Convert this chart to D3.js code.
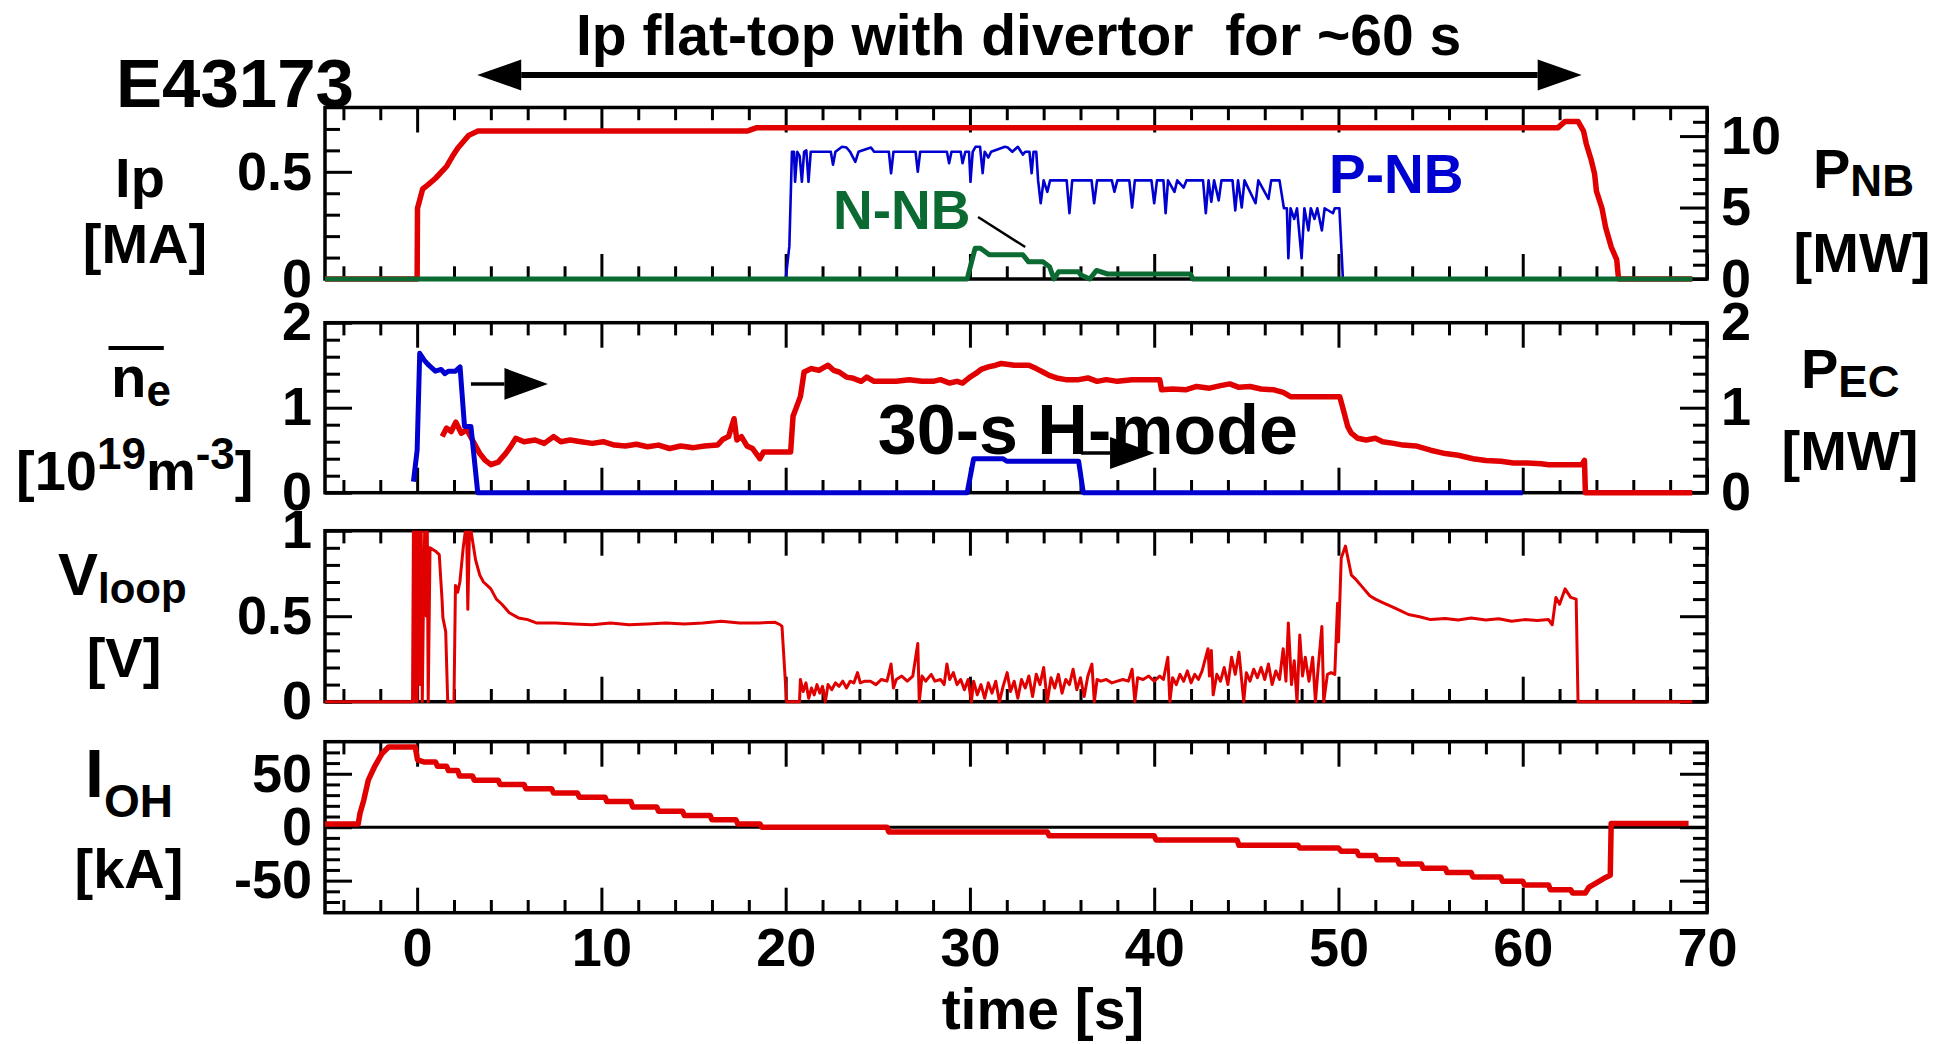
<!DOCTYPE html>
<html><head><meta charset="utf-8">
<script src="https://cdn.jsdelivr.net/npm/d3@7"></script>
<style>
body{margin:0;background:#fff;}
text{font-family:"Liberation Sans",Arial,Helvetica,sans-serif;font-weight:bold;}
</style></head><body>
<svg id="chart" width="1948" height="1044"></svg>
<script>
// ---------------- DATA ----------------
const timeTicks = [0,10,20,30,40,50,60,70];
const ipTicks = [0,0.5];
const pnbTicks = [0,5,10];
const neTicks = [0,1,2];
const pecTicks = [0,1,2];
const vloopTicks = [0,0.5,1];
const iohTicks = [-50,0,50];

// Ip [MA] vs time [s]
const ipData = [[-5,0],[0,0],[0.02,0.33],[0.3,0.42],[0.6,0.44],[1.0,0.47],[1.6,0.525],[1.9,0.57],[2.2,0.61],[2.5,0.64],[2.8,0.67],[3.3,0.69],[17.9,0.69],[18.4,0.705],[61.9,0.705],[62.1,0.72],[62.3,0.735],[63.0,0.735],[63.3,0.69],[63.45,0.63],[63.7,0.56],[63.9,0.49],[64.0,0.41],[64.3,0.33],[64.5,0.24],[64.8,0.15],[65.1,0.09],[65.2,0],[69.2,0]];

// P-NB [MW]
const pnbData = [[-5,0],[20.0,0],[20.2,2.3],[20.34,8.9],[20.45,8.9],[20.51,6.8],[20.63,8.9],[20.76,8.6],[20.88,6.8],[21.0,8.9],[21.12,9.0],[21.24,6.8],[21.36,8.9],[21.6,8.9],[22.45,8.9],[22.57,8.0],[22.7,8.9],[23.06,9.25],[23.3,9.2],[23.5,8.9],[23.78,8.2],[23.95,8.9],[24.63,9.2],[24.8,8.9],[25.6,8.9],[25.72,7.4],[25.85,8.9],[27.05,8.9],[27.17,7.5],[27.3,8.9],[28.75,8.9],[28.87,8.1],[29.0,8.9],[29.5,8.9],[29.6,8.1],[29.75,8.9],[29.95,8.9],[30.03,6.8],[30.15,8.9],[30.3,9.25],[30.55,9.25],[30.69,7.4],[30.8,8.9],[31.0,8.5],[31.15,8.9],[31.9,9.25],[32.05,9.2],[32.3,8.9],[32.6,9.25],[32.87,8.7],[33.0,8.9],[33.23,8.9],[33.35,7.4],[33.45,8.9],[33.6,8.9],[33.7,6.9],[33.84,5.3],[34.0,6.9],[34.2,6.1],[34.35,6.9],[35.25,6.9],[35.4,4.6],[35.55,6.9],[36.6,6.9],[36.74,5.3],[36.9,6.9],[37.7,6.9],[37.84,6.1],[38.0,6.9],[38.65,6.9],[38.8,5.0],[38.95,6.9],[39.85,6.9],[40.0,5.3],[40.15,6.9],[40.5,6.9],[40.62,4.6],[40.75,6.9],[41.1,6.1],[41.25,6.9],[41.6,6.4],[41.75,6.9],[42.65,6.9],[42.8,4.6],[42.95,6.9],[43.1,5.4],[43.25,6.9],[43.5,5.5],[43.65,6.9],[44.25,6.9],[44.4,4.8],[44.55,6.9],[44.75,5.0],[44.9,6.9],[45.5,5.3],[45.65,6.9],[46.2,5.6],[46.35,6.9],[46.8,6.9],[47.04,4.95],[47.2,4.95],[47.28,1.45],[47.4,4.95],[47.6,4.2],[47.75,4.95],[48.0,1.45],[48.15,4.95],[48.37,3.4],[48.5,4.95],[48.7,4.2],[48.85,4.95],[49.1,3.4],[49.25,4.95],[49.7,4.6],[49.8,4.95],[50.05,4.95],[50.24,0],[69.2,0]];

// N-NB [MW]
const nnbData = [[-5,0],[29.85,0],[30.28,2.15],[30.57,2.15],[31.05,1.7],[32.87,1.7],[33.18,1.2],[33.96,1.2],[34.32,0.86],[34.56,0],[34.81,0.5],[35.9,0.5],[36.0,0.3],[36.5,0],[36.87,0.6],[37.47,0.35],[41.96,0.35],[42.1,0],[69.2,0]];

// line-averaged density [1e19 m^-3]
const neData = [[1.36,0.66],[1.6,0.76],[1.85,0.72],[2.1,0.83],[2.4,0.7],[2.7,0.74],[3.0,0.62],[3.4,0.46],[3.7,0.38],[4.0,0.33],[4.4,0.36],[4.8,0.46],[5.1,0.55],[5.35,0.64],[5.8,0.6],[6.4,0.62],[6.9,0.58],[7.4,0.66],[7.8,0.6],[8.3,0.62],[8.9,0.6],[9.5,0.58],[10.1,0.6],[10.7,0.56],[11.3,0.55],[11.9,0.57],[12.5,0.54],[13.1,0.56],[13.7,0.52],[14.3,0.55],[15.0,0.53],[15.6,0.55],[16.3,0.56],[16.6,0.63],[16.9,0.66],[17.2,0.87],[17.35,0.62],[17.6,0.66],[17.9,0.55],[18.2,0.52],[18.6,0.40],[18.8,0.48],[20.27,0.48],[20.4,0.9],[20.8,1.13],[21.0,1.42],[21.4,1.46],[21.8,1.44],[22.3,1.5],[22.6,1.44],[22.9,1.42],[23.3,1.36],[23.6,1.35],[24.1,1.31],[24.4,1.36],[24.8,1.31],[25.4,1.31],[26.0,1.31],[26.7,1.33],[27.4,1.31],[28.0,1.31],[28.4,1.33],[28.9,1.29],[29.3,1.31],[29.6,1.29],[30.0,1.36],[30.3,1.40],[30.6,1.45],[31.0,1.48],[31.4,1.50],[31.7,1.52],[32.4,1.50],[33.2,1.50],[33.6,1.46],[33.96,1.42],[34.3,1.38],[34.7,1.35],[35.2,1.33],[35.9,1.33],[36.4,1.35],[36.9,1.31],[37.4,1.33],[38.0,1.31],[38.8,1.33],[39.5,1.33],[40.3,1.33],[40.4,1.21],[41.0,1.22],[41.7,1.21],[42.3,1.25],[43.0,1.23],[43.6,1.26],[44.1,1.28],[44.6,1.24],[45.2,1.25],[45.8,1.22],[46.5,1.21],[47.0,1.18],[47.4,1.13],[48.5,1.13],[50.07,1.13],[50.27,0.97],[50.5,0.78],[50.7,0.70],[51.05,0.64],[51.5,0.62],[52.0,0.64],[52.4,0.60],[53.0,0.58],[53.5,0.56],[54.2,0.55],[55.0,0.50],[55.8,0.46],[56.5,0.44],[57.3,0.40],[58.0,0.38],[58.8,0.37],[59.5,0.35],[60.25,0.35],[61.0,0.34],[61.4,0.33],[63.2,0.33],[63.35,0.38],[63.4,0],[69.2,0]];

// P-EC [MW]
const pecData = [[-0.2,0.13],[0.0,0.5],[0.14,1.64],[0.38,1.56],[0.63,1.5],[0.99,1.43],[1.3,1.45],[1.5,1.40],[1.71,1.43],[2.08,1.43],[2.33,1.48],[2.57,0.78],[2.92,0.78],[3.29,0],[29.85,0],[30.2,0.4],[31.8,0.4],[32.0,0.37],[35.9,0.37],[36.15,0],[60.0,0]];

// loop voltage [V]
const vloopData = [[-5,0],[-0.25,0],[-0.2,1.05],[-0.15,0],[-0.05,1.05],[0.0,0],[0.08,1.05],[0.15,0.1],[0.22,1.05],[0.28,0],[0.35,0.65],[0.42,1.05],[0.5,0.5],[0.55,1.05],[0.6,0.0],[0.7,0.9],[1.0,0.88],[1.2,0.86],[1.35,0.6],[1.4,0.49],[1.55,0.41],[1.66,0.0],[2.0,0.0],[2.08,0.68],[2.2,0.64],[2.32,0.7],[2.5,0.9],[2.68,1.05],[2.75,0.54],[2.85,1.05],[3.17,0.83],[3.4,0.74],[3.6,0.7],[3.8,0.68],[4.0,0.66],[4.3,0.6],[4.6,0.57],[5.0,0.52],[5.5,0.49],[6.0,0.48],[6.5,0.46],[7.5,0.46],[8.5,0.455],[9.5,0.45],[10.5,0.46],[11.5,0.45],[12.5,0.455],[13.5,0.46],[14.5,0.455],[15.5,0.46],[16.5,0.47],[17.5,0.46],[18.5,0.46],[19.4,0.465],[19.7,0.45],[19.8,0.44],[20.05,0],[20.75,0],[20.8,0.13],[20.95,0.06],[21.1,0.11],[21.25,0.02],[21.4,0.08],[21.55,0.04],[21.7,0.1],[21.85,0.05],[22.0,0.09],[22.15,0.0],[22.3,0.1],[22.5,0.07],[22.7,0.11],[22.9,0.09],[23.1,0.12],[23.3,0.08],[23.5,0.12],[23.7,0.11],[23.9,0.17],[24.05,0.11],[24.3,0.12],[24.6,0.12],[24.9,0.1],[25.2,0.13],[25.5,0.12],[25.72,0.22],[25.85,0.08],[26.0,0.13],[26.3,0.15],[26.6,0.12],[26.9,0.15],[27.17,0.34],[27.25,0.0],[27.4,0.15],[27.6,0.12],[27.9,0.16],[28.1,0.12],[28.4,0.13],[28.6,0.1],[28.75,0.22],[28.9,0.13],[29.1,0.17],[29.3,0.1],[29.5,0.13],[29.7,0.07],[29.9,0.13],[30.08,0.0],[30.2,0.12],[30.4,0.04],[30.6,0.1],[30.8,0.02],[31.0,0.11],[31.2,0.05],[31.4,0.12],[31.6,0.0],[31.8,0.09],[32.02,0.17],[32.2,0.06],[32.4,0.12],[32.6,0.02],[32.8,0.13],[33.0,0.08],[33.2,0.15],[33.4,0.03],[33.6,0.16],[33.8,0.1],[34.0,0.2],[34.2,0.0],[34.4,0.14],[34.6,0.08],[34.8,0.16],[35.0,0.05],[35.2,0.13],[35.4,0.1],[35.6,0.19],[35.8,0.07],[36.0,0.14],[36.2,0.03],[36.4,0.15],[36.62,0.22],[36.75,0.0],[36.9,0.13],[37.1,0.12],[37.4,0.13],[37.7,0.11],[38.0,0.12],[38.3,0.13],[38.6,0.12],[38.8,0.19],[38.95,0.0],[39.1,0.14],[39.4,0.13],[39.7,0.15],[40.0,0.12],[40.3,0.15],[40.5,0.13],[40.74,0.26],[40.85,0.0],[41.0,0.14],[41.2,0.1],[41.4,0.16],[41.6,0.12],[41.8,0.18],[42.0,0.11],[42.2,0.16],[42.4,0.13],[42.6,0.18],[42.92,0.31],[43.0,0.15],[43.1,0.3],[43.2,0.04],[43.4,0.16],[43.6,0.12],[43.8,0.2],[44.0,0.1],[44.2,0.26],[44.4,0.16],[44.6,0.29],[44.86,0.0],[45.0,0.17],[45.2,0.12],[45.4,0.19],[45.6,0.14],[45.8,0.2],[46.0,0.13],[46.2,0.22],[46.4,0.1],[46.6,0.18],[46.8,0.13],[47.0,0.31],[47.15,0.12],[47.28,0.46],[47.45,0.1],[47.6,0.24],[47.75,0.0],[47.9,0.39],[48.05,0.15],[48.2,0.26],[48.4,0.12],[48.6,0.26],[48.75,0.0],[48.9,0.2],[49.1,0.44],[49.2,0.0],[49.4,0.16],[49.6,0.17],[49.8,0.16],[49.95,0.575],[50.0,0.35],[50.15,0.84],[50.38,0.91],[50.7,0.74],[50.9,0.72],[51.3,0.67],[51.7,0.62],[52.0,0.6],[52.4,0.58],[52.8,0.56],[53.3,0.535],[53.8,0.51],[54.4,0.497],[55.0,0.48],[55.8,0.487],[56.5,0.478],[57.2,0.49],[58.0,0.478],[58.7,0.485],[59.4,0.47],[60.1,0.48],[60.8,0.475],[61.4,0.48],[61.6,0.45],[61.8,0.61],[62.0,0.57],[62.3,0.66],[62.6,0.61],[62.9,0.6],[63.0,0],[69.2,0]];

// I_OH [kA]
const iohData = [[-5,3],[-3.2,3],[-3.1,13],[-2.9,25],[-2.65,44],[-2.3,57],[-1.9,69],[-1.55,75],[-0.1,75],[0.02,63],[0.4,61],[1.0,61],[1.1,57],[1.6,57],[1.7,53],[2.2,53],[2.3,48],[3.0,48],[3.1,44],[4.4,44],[4.5,40],[5.8,40],[5.9,36],[7.3,36],[7.4,32],[8.7,32],[8.8,28],[10.2,28],[10.3,24],[11.6,24],[11.7,19],[13.0,19],[13.1,15],[14.4,15],[14.5,11],[15.9,11],[16.0,7],[17.3,7],[17.4,3],[18.6,3],[18.7,0],[25.5,0],[25.6,-4.5],[34.2,-4.5],[34.3,-8],[40.0,-8],[40.1,-12],[44.5,-12],[44.6,-17],[47.8,-17],[47.9,-19.5],[50.0,-19.5],[50.15,-22.5],[51.0,-22.5],[51.1,-26.5],[52.0,-26.5],[52.1,-30.5],[53.2,-30.5],[53.3,-34.5],[54.5,-34.5],[54.6,-38.5],[55.8,-38.5],[55.9,-42.5],[57.2,-42.5],[57.3,-46.5],[58.8,-46.5],[58.9,-50.5],[60.0,-50.5],[60.1,-54],[61.4,-54],[61.5,-58.5],[62.6,-58.5],[62.7,-61.5],[63.4,-61.5],[63.6,-56],[64.0,-52],[64.5,-47],[64.75,-45],[64.8,3.5],[69.0,3.5]];

// annotations (data units)
const flatTopArrow = [3.26, 63.2];          // time span of the top arrow
const ecArrow1 = [[2.92,1.28],[7.1,1.28]];   // ne panel arrow
const ecArrow2 = [[36.03,0.467],[40.02,0.467]];
const nnbPointer = [[30.44,4.34],[33.0,2.24]];

// ---------------- DRAWING ----------------
const FONT = '"Liberation Sans", Arial, Helvetica, sans-serif';
const RED = '#e00000', BLUE = '#0000d0', GREEN = '#0b6a32';
const svg = d3.select('#chart');
const X0 = 325, X1 = 1707;
const x = d3.scaleLinear().domain([-5,70]).range([X0, X1]);

const panels = [
  {top:107.5, bottom:279},
  {top:322.7, bottom:492.7},
  {top:530.7, bottom:701.7},
  {top:741.7, bottom:912.7}
];
const yIp  = d3.scaleLinear().domain([0,0.8]).range([panels[0].bottom, panels[0].top]);
const yPnb = d3.scaleLinear().domain([0,12]).range([panels[0].bottom, panels[0].top]);
const yNe  = d3.scaleLinear().domain([0,2]).range([panels[1].bottom, panels[1].top]);
const yPec = d3.scaleLinear().domain([0,2]).range([panels[1].bottom, panels[1].top]);
const yV   = d3.scaleLinear().domain([0,1]).range([panels[2].bottom, panels[2].top]);
const yOh  = d3.scaleLinear().domain([-80,80]).range([panels[3].bottom, panels[3].top]);

function minors(d0, d1, step, majors) {
  const n = Math.round((d1 - d0) / step), out = [];
  for (let i = 1; i < n; i++) {
    const v = +(d0 + i * step).toFixed(6);
    if (!majors.some(m => Math.abs(m - v) < 1e-6)) out.push(v);
  }
  return out;
}
function styleAxis(ag, fs) {
  ag.select('.domain').remove();
  ag.attr('font-family', FONT).attr('font-size', fs).attr('font-weight', 'bold');
  ag.selectAll('line').attr('stroke', '#000').attr('stroke-width', 3);
  ag.selectAll('text').attr('fill', '#000');
}
function addAxis(axisFn, scale, values, len, labels, pad, tx, ty) {
  const a = axisFn(scale).tickValues(values).tickSize(-len).tickSizeOuter(0).tickPadding(pad)
    .tickFormat(labels ? (d => String(d)) : (() => ''));
  const ag = svg.append('g').attr('transform', `translate(${tx},${ty})`).call(a);
  styleAxis(ag, 54);
  return ag;
}

const xMinor = d3.range(-4, 70, 2).filter(v => v % 10 !== 0);
const xMajor = timeTicks;

function drawPanel(p, i, left, right) {
  svg.append('rect').attr('x', X0).attr('y', p.top).attr('width', X1 - X0).attr('height', p.bottom - p.top)
    .attr('fill', 'none').attr('stroke', '#000').attr('stroke-width', 3.5);
  // x ticks top & bottom
  addAxis(d3.axisTop, x, xMinor, 12.7, false, 0, 0, p.top);
  addAxis(d3.axisTop, x, xMajor, 25, false, 0, 0, p.top);
  addAxis(d3.axisBottom, x, xMinor, 12.7, false, 0, 0, p.bottom);
  addAxis(d3.axisBottom, x, xMajor, 25, i === 3, 15, 0, p.bottom);
  // y ticks
  const ld = left.scale.domain();
  addAxis(d3.axisLeft, left.scale, minors(ld[0], ld[1], left.step, left.major), 15, false, 0, X0, 0);
  addAxis(d3.axisLeft, left.scale, left.major, 27, true, 13, X0, 0);
  const rd = right.scale.domain();
  addAxis(d3.axisRight, right.scale, minors(rd[0], rd[1], right.step, right.major), 14, false, 0, X1, 0);
  addAxis(d3.axisRight, right.scale, right.major, 27, right.labels, 14, X1, 0);
  // clip for data
  svg.append('clipPath').attr('id', 'clip' + i).append('rect')
    .attr('x', X0).attr('y', p.top).attr('width', X1 - X0).attr('height', p.bottom - p.top + 5);
}

drawPanel(panels[0], 0, {scale:yIp, step:0.1, major:ipTicks}, {scale:yPnb, step:1, major:pnbTicks, labels:true});
drawPanel(panels[1], 1, {scale:yNe, step:0.2, major:neTicks}, {scale:yPec, step:0.2, major:pecTicks, labels:true});
drawPanel(panels[2], 2, {scale:yV, step:0.1, major:vloopTicks}, {scale:yV, step:0.1, major:vloopTicks, labels:false});
drawPanel(panels[3], 3, {scale:yOh, step:10, major:iohTicks}, {scale:yOh, step:10, major:iohTicks, labels:false});

// zero line of I_OH
svg.append('line').attr('x1', X0).attr('x2', X1).attr('y1', yOh(0)).attr('y2', yOh(0))
  .attr('stroke', '#000').attr('stroke-width', 3);

function series(data, yScale, color, width, clipIdx) {
  const line = d3.line().x(d => x(d[0])).y(d => yScale(d[1]));
  svg.append('path').datum(data).attr('d', line).attr('fill', 'none')
    .attr('stroke', color).attr('stroke-width', width).attr('stroke-linejoin', 'round')
    .attr('clip-path', `url(#clip${clipIdx})`);
}
series(ipData, yIp, RED, 5.5, 0);
series(pnbData, yPnb, BLUE, 2.6, 0);
series(nnbData, yPnb, GREEN, 5, 0);
series(neData, yNe, RED, 5.5, 1);
series(pecData, yPec, BLUE, 5, 1);
series(vloopData, yV, RED, 3, 2);
series(iohData, yOh, RED, 5.5, 3);

// ---------- text & annotations ----------
function txt(xp, yp, s, fs, opts = {}) {
  const t = svg.append('text').attr('x', xp).attr('y', yp).attr('font-size', fs)
    .attr('font-family', FONT).attr('font-weight', 'bold')
    .attr('fill', opts.fill || '#000').attr('text-anchor', opts.anchor || 'start');
  if (opts.pre) t.style('white-space', 'pre');
  if (s !== null) t.text(s);
  return t;
}
function arrow(xa, xb, yy, lw, headLen, headHalf, both) {
  const g = svg.append('g');
  const s = both ? xa + headLen : xa;
  g.append('line').attr('x1', s).attr('x2', xb - headLen).attr('y1', yy).attr('y2', yy)
    .attr('stroke', '#000').attr('stroke-width', lw);
  g.append('path').attr('d', `M${xb},${yy}L${xb - headLen},${yy - headHalf}L${xb - headLen},${yy + headHalf}Z`).attr('fill', '#000');
  if (both) g.append('path').attr('d', `M${xa},${yy}L${xa + headLen},${yy - headHalf}L${xa + headLen},${yy + headHalf}Z`).attr('fill', '#000');
}

txt(576, 55, 'Ip flat-top with divertor  for ~60 s', 57, {pre:true});
arrow(x(flatTopArrow[0]), x(flatTopArrow[1]), 75, 6, 44, 15.5, true);
txt(116, 107, 'E43173', 69);

// panel 1 labels
txt(140, 197, 'Ip', 56, {anchor:'middle'});
txt(145, 263, '[MA]', 56, {anchor:'middle'});
const pnbLab = txt(1813, 188, null, 56);
pnbLab.append('tspan').text('P');
pnbLab.append('tspan').attr('font-size', 44).attr('dy', 8).text('NB');
txt(1862, 272, '[MW]', 56, {anchor:'middle'});
txt(833, 229, 'N-NB', 55, {fill:GREEN});
txt(1329, 192.7, 'P-NB', 55, {fill:BLUE});
svg.append('line').attr('x1', x(nnbPointer[0][0])).attr('y1', yPnb(nnbPointer[0][1]))
  .attr('x2', x(nnbPointer[1][0])).attr('y2', yPnb(nnbPointer[1][1]))
  .attr('stroke', '#000').attr('stroke-width', 2.5);

// panel 2 labels
svg.append('line').attr('x1', 108.5).attr('x2', 163.8).attr('y1', 348).attr('y2', 348)
  .attr('stroke', '#000').attr('stroke-width', 4);
const neLab = txt(111, 397, null, 58);
neLab.append('tspan').text('n');
neLab.append('tspan').attr('font-size', 44).attr('dy', 9).text('e');
const neUnit = txt(16, 490, null, 56);
neUnit.append('tspan').text('[10');
neUnit.append('tspan').attr('font-size', 44).attr('dy', -21).text('19');
neUnit.append('tspan').attr('dy', 21).text('m');
neUnit.append('tspan').attr('font-size', 44).attr('dy', -21).text('-3');
neUnit.append('tspan').attr('dy', 21).text(']');
const pecLab = txt(1801, 388, null, 56);
pecLab.append('tspan').text('P');
pecLab.append('tspan').attr('font-size', 44).attr('dy', 9).text('EC');
txt(1850, 470, '[MW]', 56, {anchor:'middle'});
txt(x(25.0), yNe(0.456), '30-s H-mode', 70);
arrow(x(ecArrow1[0][0]), x(ecArrow1[1][0]), yNe(ecArrow1[0][1]), 3.5, 43.5, 15.8, false);
arrow(x(ecArrow2[0][0]), x(ecArrow2[1][0]), yNe(ecArrow2[0][1]), 3.5, 44.5, 16, false);

// panel 3 labels
const vLab = txt(58, 595, null, 60);
vLab.append('tspan').text('V');
vLab.append('tspan').attr('font-size', 42).attr('dy', 8).text('loop');
txt(124, 677, '[V]', 56, {anchor:'middle'});

// panel 4 labels
const ohLab = txt(85, 797, null, 68);
ohLab.append('tspan').text('I');
ohLab.append('tspan').attr('font-size', 46).attr('dy', 20).text('OH');
txt(129, 888, '[kA]', 56, {anchor:'middle'});

txt(1043, 1029, 'time [s]', 57, {anchor:'middle'});
</script>
</body></html>
